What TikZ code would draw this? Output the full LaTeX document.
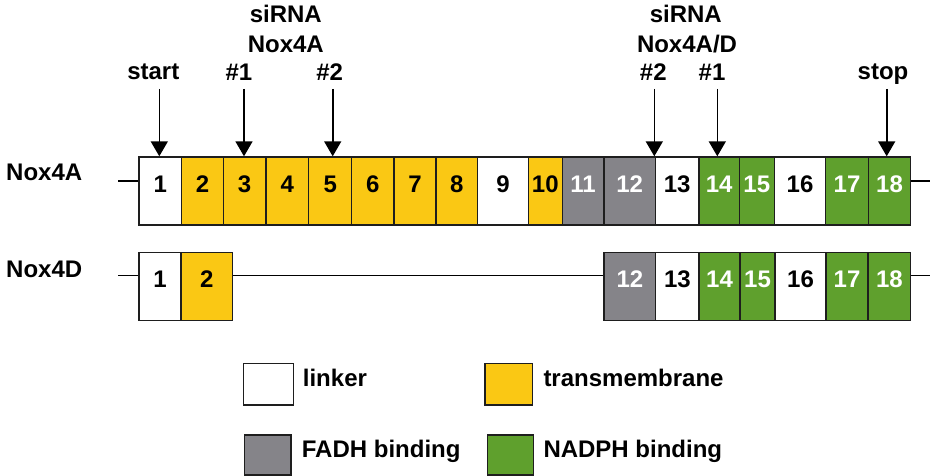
\documentclass[tikz,border=0pt]{standalone}
\usepackage{fontspec}
\setmainfont{Liberation Sans}
\usetikzlibrary{arrows.meta}
\definecolor{tmY}{RGB}{250,200,20}
\definecolor{fdG}{RGB}{133,132,137}
\definecolor{ndG}{RGB}{95,160,45}
\definecolor{edge}{RGB}{30,30,30}
\begin{document}
\begin{tikzpicture}[x=1pt,y=-1pt,
  font=\fontsize{24}{28}\selectfont\bfseries,
  exon/.style={draw=edge, line width=1.4pt, rectangle, inner sep=0pt,
    minimum height=68pt, text height=17pt, text depth=15pt},
  lbl/.style={inner sep=0pt, anchor=base},
  llbl/.style={inner sep=0pt, anchor=base west},
  arr/.style={-{Triangle[width=17pt,length=15pt]}, line width=1.6pt, draw=black},
  leg/.style={draw=edge, line width=1.4pt, inner sep=0pt},
  conn/.style={line width=1.6pt, draw=black}]
\useasboundingbox (0,0) rectangle (931,476);
% Nox4A exons
\foreach \n/\l/\r/\c/\t in {1/139/181.7/white/black, 2/181.7/223.3/tmY/black,
  3/223.3/266/tmY/black, 4/266/308.7/tmY/black, 5/308.7/351.7/tmY/black,
  6/351.7/394/tmY/black, 7/394/436/tmY/black, 8/436/477.7/tmY/black,
  9/477.7/528.3/white/black, 10/528.3/562.3/tmY/black, 11/562.3/604/fdG/white,
  12/604/655.3/fdG/white, 13/655.3/699/white/black, 14/699/739.3/ndG/white,
  15/739.3/774.3/ndG/white, 16/774.3/825.7/white/black, 17/825.7/868.3/ndG/white,
  18/868.3/910.7/ndG/white}
  \node[exon, fill=\c, text=\t, minimum width={\r-\l}] (A\n) at ({(\l+\r)/2},191) {\n};
% Nox4D exons
\foreach \n/\l/\r/\c/\t in {1/139/181/white/black, 2/181/232.7/tmY/black,
  12/604/655.7/fdG/white, 13/655.7/699/white/black, 14/699/740/ndG/white,
  15/740/775/ndG/white, 16/775/826/white/black, 17/826/868/ndG/white,
  18/868/910.7/ndG/white}
  \node[exon, fill=\c, text=\t, minimum width={\r-\l}] (D\n) at ({(\l+\r)/2},286.5) {\n};
% row labels
\node[llbl] (labA) at (6,180.7) {Nox4A};
\node[llbl] (labD) at (6,277) {Nox4D};
% connecting lines
\coordinate (AL) at (118,181);
\coordinate (AR) at (930,181);
\coordinate (DL) at (118,275.3);
\coordinate (DR) at (930,275.3);
\draw[conn] (AL) -- (AL -| A1.west);
\draw[conn] (A18.east |- AR) -- (AR);
\draw[conn] (DL) -- (DL -| D1.west);
\draw[conn] (D2.east |- DL) -- (DL -| D12.west);
\draw[conn] (D18.east |- DR) -- (DR);
% top texts
\node[lbl] (si1) at (285.8,22.5) {siRNA};
\node[lbl] (nx1) at (285.8,53) {Nox4A};
\node[lbl] (start) at (153.3,80) {start};
\node[lbl] (h11) at (239,81) {\#1};
\node[lbl] (h12) at (329.7,81) {\#2};
\node[lbl] (si2) at (685.8,22.5) {siRNA};
\node[lbl] (nx2) at (687,53) {Nox4A/D};
\node[lbl] (h22) at (653.3,81) {\#2};
\node[lbl] (h21) at (712,81) {\#1};
\node[lbl] (stop) at (883,80) {stop};
% arrows
\coordinate (tS) at (159.3,89);
\coordinate (t1) at (244,89);
\coordinate (t2) at (332.7,89);
\coordinate (t3) at (654.3,89);
\coordinate (t4) at (717.3,89);
\coordinate (t5) at (886.7,89);
\draw[arr] (tS) -- (tS |- A1.north);
\draw[arr] (t1) -- (t1 |- A3.north);
\draw[arr] (t2) -- (t2 |- A5.north);
\draw[arr] (t3) -- (t3 |- A12.north);
\draw[arr] (t4) -- (t4 |- A14.north);
\draw[arr] (t5) -- (t5 |- A18.north);
% legend
\node[leg, fill=white, minimum width=50pt, minimum height=41.7pt] (kL) at (268.3,384.2) {};
\node[llbl] (tL) at (302.7,386.5) {linker};
\node[leg, fill=tmY, minimum width=47.3pt, minimum height=41.7pt] (kT) at (508.7,384.2) {};
\node[llbl] (tT) at (543.3,386) {transmembrane};
\node[leg, fill=fdG, minimum width=46.7pt, minimum height=40pt] (kF) at (267.7,455) {};
\node[llbl] (tF) at (301.7,457.3) {FADH binding};
\node[leg, fill=ndG, minimum width=46pt, minimum height=40pt] (kN) at (510.3,455) {};
\node[llbl] (tN) at (543.3,457.3) {NADPH binding};
\end{tikzpicture}
\end{document}
